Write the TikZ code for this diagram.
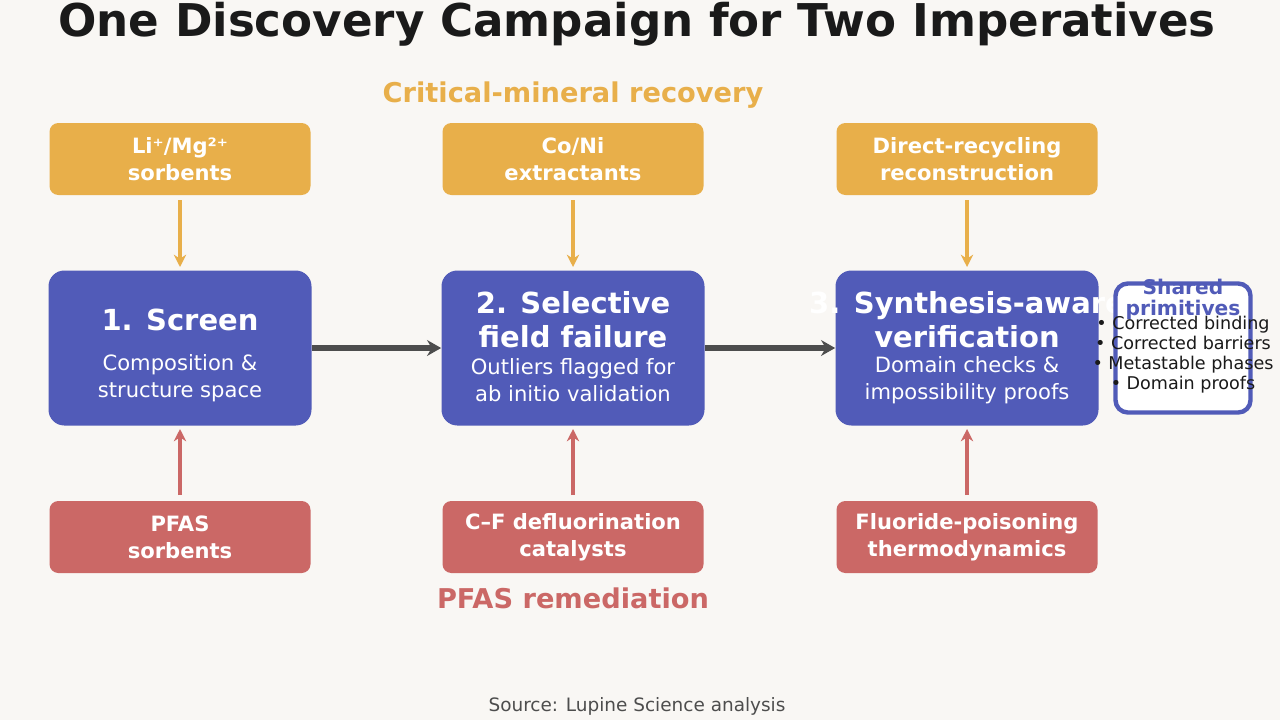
\documentclass[tikz,border=0pt]{standalone}
\usepackage{fontspec}
\setmainfont{DejaVu Sans}
\usetikzlibrary{arrows.meta}
\definecolor{bg}{HTML}{F9F7F4}
\definecolor{org}{HTML}{E8AF4A}
\definecolor{blu}{HTML}{515BB8}
\definecolor{rd}{HTML}{CB6866}
\definecolor{dk}{HTML}{4D4D4D}
\definecolor{txt}{HTML}{1A1A1A}
\begin{document}
\begin{tikzpicture}[x=0.02cm,y=-0.02cm,
 sbox/.style={rounded corners=5pt,minimum width=261*0.02cm,minimum height=72*0.02cm,text=white,font=\fontsize{12}{15.5}\selectfont\bfseries,align=center},
 obox/.style={sbox,fill=org},
 rbox/.style={sbox,fill=rd},
 bbox/.style={rounded corners=9pt,fill=blu,minimum width=263*0.02cm,minimum height=155*0.02cm},
 btitle/.style={text=white,font=\fontsize{16.5}{19.5}\selectfont\bfseries,align=center},
 bsub/.style={text=white,font=\fontsize{12}{15}\selectfont,align=center},
 oar/.style={draw=org,line width=2pt,-{Stealth[length=7pt,width=7pt]}},
 rar/.style={draw=rd,line width=2pt,-{Stealth[length=7pt,width=7pt]}},
 gar/.style={draw=dk,line width=3.5pt,-{Stealth[length=8pt,width=9pt]}}]
\useasboundingbox (0,0) rectangle (1280,720);
\fill[bg] (0,0) rectangle (1280,720);
\node[font=\fontsize{25.7}{30}\selectfont\bfseries,text=txt] (title) at (637,24) {One Discovery Campaign for Two Imperatives};
\node[font=\fontsize{15.5}{18}\selectfont\bfseries,text=org] (cm) at (573,95) {Critical-mineral recovery};
\node[font=\fontsize{15.5}{18}\selectfont\bfseries,text=rd] (pf) at (573,598) {PFAS remediation};
\node[font=\fontsize{10.5}{13}\selectfont,text=dk] (src) at (637,706) {Source: Lupine Science analysis};

\node[obox] (o1) at (180,159) {Li⁺/Mg²⁺\\sorbents};
\node[obox] (o2) at (573,159) {Co/Ni\\extractants};
\node[obox] (o3) at (967,159) {Direct-recycling\\reconstruction};
\node[rbox] (r1) at (180,537) {PFAS\\sorbents};
\node[rbox] (r2) at (573,537) {C–F defluorination\\catalysts};
\node[rbox] (r3) at (967,537) {Fluoride-poisoning\\thermodynamics};

\node[bbox] (b1) at (180,348) {};
\node[bbox] (b2) at (573,348) {};
\node[bbox] (b3) at (967,348) {};
\node[btitle] (t1) at (180,320) {1. Screen};
\node[bsub] (s1) at (180,378) {Composition \&\\structure space};
\node[btitle] (t2) at (573,320) {2. Selective\\field failure};
\node[bsub] (s2) at (573,380) {Outliers flagged for\\ab initio validation};
\node[btitle] (t3) at (967,320) {3. Synthesis-aware\\verification};
\node[bsub] (s3) at (967,380) {Domain checks \&\\impossibility proofs};

\node[draw=blu,line width=2.5pt,rounded corners=7pt,fill=white,minimum width=135*0.02cm,minimum height=129*0.02cm] (sp) at (1183,348) {};
\node[font=\fontsize{11.5}{12}\selectfont\bfseries,text=blu,align=center] (spt) at (1183,299) {Shared\\primitives};
\node[font=\fontsize{10}{11.4}\selectfont,text=txt,align=center] (spl) at (1183,355) {• Corrected binding\\• Corrected barriers\\• Metastable phases\\• Domain proofs};

\draw[oar] (180,200) -- (180,267);
\draw[oar] (573,200) -- (573,267);
\draw[oar] (967,200) -- (967,267);
\draw[rar] (180,495) -- (180,429);
\draw[rar] (573,495) -- (573,429);
\draw[rar] (967,495) -- (967,429);
\draw[gar] (b1.east) -- (b2.west);
\draw[gar] (b2.east) -- (b3.west);
\end{tikzpicture}
\end{document}
